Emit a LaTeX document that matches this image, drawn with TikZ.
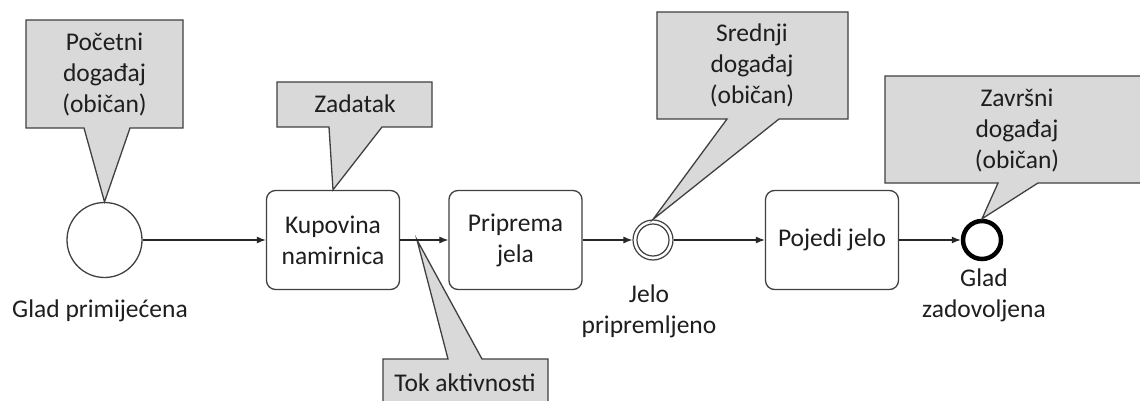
\documentclass[tikz,border=0pt]{standalone}
\usepackage{fontspec}
\setmainfont{Carlito}
\usetikzlibrary{arrows.meta,calc}
\definecolor{callfill}{HTML}{D9D9D9}
\definecolor{linec}{HTML}{404040}
\definecolor{txt}{HTML}{1E1E1E}
\begin{document}
\begin{tikzpicture}[x=1pt,y=-1pt,
  font=\fontsize{25.5}{31}\selectfont, text=txt,
  task/.style={draw=linec, line width=1.3pt, rounded corners=9pt, minimum width=133pt,
    minimum height=99pt, inner sep=0pt, align=center, fill=white},
  evt/.style={circle, draw=linec, line width=1.3pt, inner sep=0pt, fill=white},
  flow/.style={draw=black!85, line width=1.2pt, -{Latex[length=9pt,width=7pt]}},
  callout/.style={draw=linec, fill=callfill, line width=1.3pt, line join=miter},
  lbl/.style={align=center, inner sep=0pt}]
\useasboundingbox (0,0) rectangle (1140,401);
\clip (0,0) rectangle (1140,401);
\fill[white] (0,0) rectangle (1140,401);

% events and tasks
\node[evt, minimum size=75pt] (start) at (104.5,240) {};
\node[task] (kup) at (333,240) {Kupovina\\namirnica};
\node[task] (prip) at (515.5,240) {Priprema\\jela};
\node[evt, minimum size=40pt, line width=1.2pt] (mid) at (653,240) {};
\node[evt, minimum size=32pt, line width=1.2pt] (midin) at (mid.center) {};
\node[task] (poj) at (832,240) {Pojedi jelo};
\node[circle, draw=black, line width=4.5pt, minimum size=38pt, inner sep=0pt] (end) at (982,240) {};

% labels
\node[lbl] (l1) at (100,311) {Glad primijećena};
\node[lbl] (l2) at (649,311) {Jelo\\pripremljeno};
\node[lbl] (l3) at (984,295) {Glad\\zadovoljena};

\coordinate (tok) at ($(kup.east)!0.35!(prip.west)$);

% callouts
\path[callout] (26,20) -- (183,20) -- (183,128) -- (130,128) -- (start.north)
  -- (84,128) -- (26,128) -- cycle;
\node[lbl] (c1) at (104.5,74) {Početni\\događaj\\(običan)};

\path[callout] (277,82) -- (432,82) -- (432,127) -- (382,127) -- (kup.north)
  -- (329,127) -- (277,127) -- cycle;
\node[lbl] (c2) at (355,104) {Zadatak};

\path[callout] (383,359) -- (448,359) -- (tok) -- (482,359) -- (548,359)
  -- (548,410) -- (383,410) -- cycle;
\node[lbl] (c3) at (465,383) {Tok aktivnosti};

\path[callout] (657,12) -- (848,12) -- (848,119) -- (779,119) -- (mid.north)
  -- (727,119) -- (657,119) -- cycle;
\node[lbl] (c4) at (752,65) {Srednji\\događaj\\(običan)};

\path[callout] (885,76) -- (1150,76) -- (1150,183) -- (1038,183) -- (end.north)
  -- (998,183) -- (885,183) -- cycle;
\node[lbl] (c5) at (1017,130) {Završni\\događaj\\(običan)};

% sequence flows
\draw[flow] (start.east) -- (kup.west);
\draw[flow] (kup.east) -- (prip.west);
\draw[flow] (prip.east) -- (mid.west);
\draw[flow] (mid.east) -- (poj.west);
\draw[flow] (poj.east) -- (end.west);
\end{tikzpicture}
\end{document}
